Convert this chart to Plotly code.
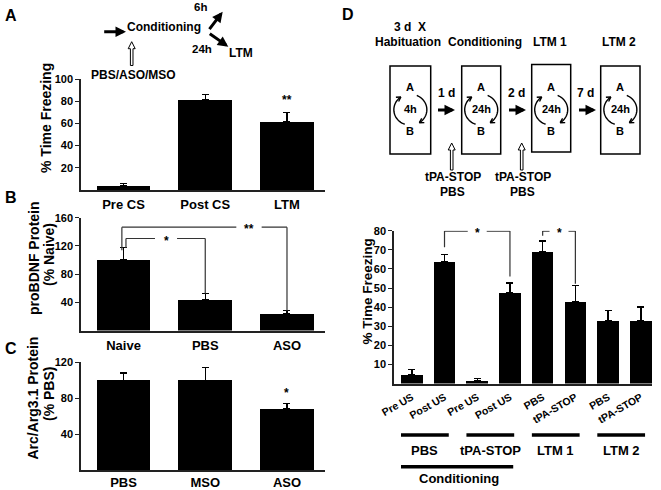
import math
import plotly.graph_objects as go

W, H = 661, 490
FONT = "Liberation Sans, Arial, sans-serif"

# ---- data ----
a_cats = ["Pre CS", "Post CS", "LTM"]
a_vals = [4, 81, 61.5]
a_err = [2, 5, 8.5]

b_cats = ["Naive", "PBS", "ASO"]
b_vals = [100, 44, 24]
b_err = [17.5, 8.5, 4]

c_cats = ["PBS", "MSO", "ASO"]
c_vals = [100, 99.5, 68]
c_err = [8, 14.5, 6]

d_cats = ["Pre US", "Post US", "Pre US", "Post US", "PBS", "tPA-STOP", "PBS", "tPA-STOP"]
d_vals = [4.6, 63.6, 1.3, 47.5, 69, 43, 33, 33]
d_err = [2.6, 4, 1.4, 5.2, 5.7, 8.3, 5.2, 7]
d_groups = ["PBS", "tPA-STOP", "LTM 1", "LTM 2"]

# significance brackets (x in bar index, y in axis units)
b_brackets = [
    dict(x0=-0.02, x1=2, top=146.5, y0=114, y1=28, label="**", gc=1.535, gh=0.155),
    dict(x0=0.03, x1=1, top=130.5, y0=117, y1=52.5, label="*", gc=0.52, gh=0.135),
]
d_brackets = [
    dict(x0=1, x1=3, top=79.8, y0=71.3, y1=56, label="*", gc=2, gh=0.29),
    dict(x0=4, x1=5, top=79.8, y0=77.3, y1=52.2, label="*", gc=4.5, gh=0.29),
]


def px(x, y):
    return x / W, 1 - y / H


def bold(size):
    return dict(family=FONT, size=size, color="black", weight="bold")


fig = go.Figure()

panels = [
    (a_vals, a_err, "x", "y"),
    (b_vals, b_err, "x2", "y2"),
    (c_vals, c_err, "x3", "y3"),
    (d_vals, d_err, "x4", "y4"),
]
for vals, err, xa, ya in panels:
    n = len(vals)
    fig.add_trace(go.Bar(
        x=list(range(n)), y=vals, width=0.66,
        marker=dict(color="black", line=dict(width=0)),
        error_y=dict(type="data", symmetric=False, array=err, arrayminus=[0] * n,
                     color="black", thickness=1.4, width=3.5),
        xaxis=xa, yaxis=ya, showlegend=False, hoverinfo="skip",
    ))

ax_common = dict(showline=True, linecolor="#222", linewidth=1.5, showgrid=False,
                 zeroline=False, fixedrange=True, automargin=False)
yt = dict(ticks="outside", ticklen=4, tickwidth=1.4, tickcolor="#222", tickfont=bold(11))

fig.update_layout(
    xaxis=dict(domain=[81 / W, 325 / W], range=[-0.52, 2.465], tickvals=[0, 1, 2],
               ticktext=a_cats, anchor="y", ticks="", tickfont=bold(13),
               ticklabelstandoff=2, **ax_common),
    yaxis=dict(domain=[1 - 190 / H, 1 - 79 / H], range=[0, 100],
               tickvals=[20, 40, 60, 80, 100], anchor="x", **yt, **ax_common),
    xaxis2=dict(domain=[81 / W, 325 / W], range=[-0.52, 2.465], tickvals=[0, 1, 2],
                ticktext=b_cats, anchor="y2", ticks="", tickfont=bold(13),
                ticklabelstandoff=2, **ax_common),
    yaxis2=dict(domain=[1 - 330.5 / H, 1 - 217.7 / H], range=[0, 160],
                tickvals=[40, 80, 120, 160], anchor="x2", **yt, **ax_common),
    xaxis3=dict(domain=[81 / W, 325 / W], range=[-0.52, 2.465], tickvals=[0, 1, 2],
                ticktext=c_cats, anchor="y3", ticks="", tickfont=bold(13),
                ticklabelstandoff=0, **ax_common),
    yaxis3=dict(domain=[1 - 470 / H, 1 - 362.3 / H], range=[0, 120],
                tickvals=[40, 80, 120], anchor="x3", **yt, **ax_common),
    xaxis4=dict(domain=[394 / W, 652 / W], range=[-0.544, 7.342], tickvals=list(range(8)),
                ticktext=d_cats, anchor="y4", tickangle=-30, ticks="",
                tickfont=bold(10.5), ticklabelstandoff=2, **ax_common),
    yaxis4=dict(domain=[1 - 383.5 / H, 1 - 230.7 / H], range=[0, 80],
                tickvals=list(range(10, 90, 10)), anchor="x4", **yt, **ax_common),
)

shapes = []
annotations = []


def text(t, x, y, size=12, angle=0, **kw):
    xx, yy = px(x, y)
    annotations.append(dict(text=t, x=xx, y=yy, xref="paper", yref="paper", showarrow=False,
                            font=bold(size), textangle=angle, xanchor="center",
                            yanchor="middle", **kw))


def line_px(pts, width=1.5, color="black", close=False, fill=None):
    path = "M " + " L ".join(f"{x / W:.5f},{1 - y / H:.5f}" for x, y in pts)
    if close:
        path += " Z"
    shapes.append(dict(type="path", path=path, xref="paper", yref="paper",
                       line=dict(color=color, width=width),
                       fillcolor=fill if fill else "rgba(0,0,0,0)"))


def thick_arrow(hx, hy, tx, ty, w=3):
    xx, yy = px(hx, hy)
    annotations.append(dict(text="", x=xx, y=yy, xref="paper", yref="paper",
                            ax=tx - hx, ay=ty - hy, showarrow=True, arrowhead=2,
                            arrowsize=0.7, arrowwidth=w, arrowcolor="black"))


def hollow_up(cx, ytip, ybot, hw=3.5, hh=7, sw=1.3):
    pts = [(cx, ytip), (cx + hw, ytip + hh), (cx + sw, ytip + hh), (cx + sw, ybot),
           (cx - sw, ybot), (cx - sw, ytip + hh), (cx - hw, ytip + hh)]
    line_px(pts, width=1, close=True, fill="white")


def circ_arrows(cx, cy=109.7, rx=16.5, ry=15.5):
    for t0, t1 in [(250, 125), (67, -57)]:
        pts = []
        for i in range(25):
            t = math.radians(t0 + (t1 - t0) * i / 24)
            pts.append((cx + rx * math.cos(t), cy - ry * math.sin(t)))
        line_px(pts, width=1.4)
        # arrow head at the end, pointing along the direction of travel
        t = math.radians(t1)
        dx, dy = rx * math.sin(t), ry * math.cos(t)
        L = math.hypot(dx, dy)
        dx, dy = dx / L, dy / L
        ex, ey = pts[-1]
        for s in (1, -1):
            a = math.radians(30) * s
            bx = -(dx * math.cos(a) - dy * math.sin(a))
            by = -(dx * math.sin(a) + dy * math.cos(a))
            line_px([(ex, ey), (ex + 5 * bx, ey + 5 * by)], width=1.4)


# ---- panel letters and axis titles ----
text("A", 11, 15.5, 16)
text("B", 11, 197.5, 16)
text("C", 11, 348, 16)
text("D", 348, 14, 16)
text("% Time Freezing", 46, 118, 14, angle=-90)
text("proBDNF Protein", 34, 258, 14, angle=-90)
text("(% Naive)", 49, 255, 14, angle=-90)
text("Arc/Arg3.1 Protein", 32.5, 398, 14, angle=-90)
text("(% PBS)", 49, 394, 14, angle=-90)
text("% Time Freezing", 366.5, 292, 13.5, angle=-90)

# ---- panel A protocol ----
text("Conditioning", 164, 27.3, 12)
text("PBS/ASO/MSO", 133.5, 75, 12)
text("6h", 200, 7.5, 11.5)
text("24h", 201.7, 49, 11.5)
text("LTM", 241, 53.3, 12)
thick_arrow(126, 31.7, 102.7, 31.7)
thick_arrow(222.7, 11.7, 208.3, 30.7)
thick_arrow(228.3, 46.7, 208.3, 32.7)
hollow_up(131.7, 41.7, 65.5)

# ---- panel D protocol ----
text("3 d  X", 410, 26.7, 12)
text("Habituation", 408, 41.7, 12)
text("Conditioning", 485, 42, 12)
text("LTM 1", 550, 42, 12)
text("LTM 2", 619, 42, 12)
boxes = [(390, 430.7, 66, 154, "4h"), (461.7, 500.7, 66, 154, "24h"),
         (531.7, 570.7, 64.5, 152, "24h"), (600.7, 640, 66, 154, "24h")]
for x0, x1, y0, y1, lab in boxes:
    line_px([(x0, y0), (x1, y0), (x1, y1), (x0, y1)], width=1.5, close=True)
    cx = (x0 + x1) / 2
    text("A", cx, 87, 11)
    text(lab, cx, 108.5, 11)
    text("B", cx, 131, 11)
    circ_arrows(cx)
for lab, xc, hx in [("1 d", 446.7, 455), ("2 d", 516, 526), ("7 d", 585.5, 596)]:
    text(lab, xc, 93.3, 12)
    thick_arrow(hx, 110, hx - 18.5, 110)
for cx in (451.7, 521.7):
    hollow_up(cx, 143, 170)
    text("tPA-STOP", cx + 1.5, 177, 12)
    text("PBS", cx + 1, 192, 12)

# ---- significance marks ----
for brs, xr, yr in [(b_brackets, "x2", "y2"), (d_brackets, "x4", "y4")]:
    for b in brs:
        segs = [(b["x0"], b["y0"], b["x0"], b["top"]),
                (b["x0"], b["top"], b["gc"] - b["gh"], b["top"]),
                (b["gc"] + b["gh"], b["top"], b["x1"], b["top"]),
                (b["x1"], b["top"], b["x1"], b["y1"])]
        for x0, y0, x1, y1 in segs:
            shapes.append(dict(type="line", xref=xr, yref=yr, x0=x0, y0=y0, x1=x1, y1=y1,
                               line=dict(color="#333", width=1.2)))
        annotations.append(dict(text=b["label"], x=b["gc"], y=b["top"], xref=xr, yref=yr,
                                showarrow=False, font=bold(12), yshift=-2))
annotations.append(dict(text="**", x=2, y=82.5, xref="x", yref="y", showarrow=False,
                        font=bold(12), yshift=-2))
annotations.append(dict(text="*", x=2, y=87.7, xref="x3", yref="y3", showarrow=False,
                        font=bold(12), yshift=-2))

# ---- D group underlines ----
for k, g in enumerate(d_groups):
    shapes.append(dict(type="line", xref="x4", yref="paper", x0=2 * k - 0.33, x1=2 * k + 1.13,
                       y0=1 - 435 / H, y1=1 - 435 / H, line=dict(color="black", width=3.5)))
    annotations.append(dict(text=g, x=2 * k + 0.4, y=1 - 450 / H, xref="x4", yref="paper",
                            showarrow=False, font=bold(13), xanchor="center",
                            yanchor="middle"))
shapes.append(dict(type="line", xref="x4", yref="paper", x0=-0.33, x1=3.1,
                   y0=1 - 466.7 / H, y1=1 - 466.7 / H, line=dict(color="black", width=3.5)))
annotations.append(dict(text="Conditioning", x=1.45, y=1 - 478.3 / H, xref="x4", yref="paper",
                        showarrow=False, font=bold(13), xanchor="center", yanchor="middle"))

fig.update_layout(
    width=W, height=H, margin=dict(l=0, r=0, t=0, b=0, autoexpand=False),
    paper_bgcolor="white", plot_bgcolor="white",
    font=dict(family=FONT, color="black"),
    shapes=shapes, annotations=annotations, bargap=0,
)

fig.write_html("out.html", config={"displayModeBar": False},
               post_script="document.body.style.margin='0px';")
